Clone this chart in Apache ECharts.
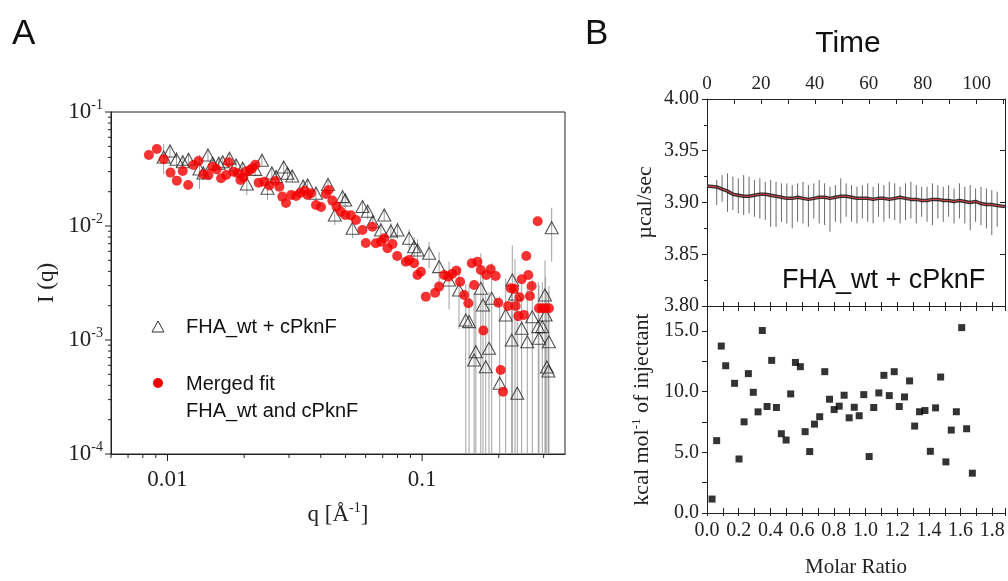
<!DOCTYPE html>
<html style="height: 100%">

<head>
	<meta charset="utf-8">
</head>

<body style="height: 100%; margin: 0; background: #fff">
	<div id="container" style="width: 1008px; height: 581px;"></div>

	<script type="text/javascript" src="https://cdn.jsdelivr.net/npm/echarts@6/dist/echarts.min.js"></script>
	<script type="text/javascript">
		// ---- panel A : SAXS, FHA_wt + cPknF (triangles, with error) ----
		let tq = [0.00966, 0.01023, 0.01085, 0.01148, 0.01209, 0.01335, 0.01384, 0.01442, 0.01505, 0.0159,
			0.01648, 0.0175, 0.0186, 0.01974, 0.0205, 0.0221, 0.0235, 0.0247, 0.0257, 0.0267,
			0.0286, 0.0296, 0.0309, 0.0341, 0.0355, 0.0383, 0.0427, 0.0454, 0.0487, 0.0499,
			0.0533, 0.0583, 0.0611, 0.064, 0.0689, 0.071, 0.0754, 0.08, 0.0889, 0.093,
			0.0959, 0.1065, 0.1166, 0.1276, 0.1396, 0.1484, 0.1529, 0.16, 0.1625, 0.17,
			0.1734, 0.1778, 0.1831, 0.1876, 0.2017, 0.2129, 0.2248, 0.226, 0.2316, 0.2364,
			0.246, 0.2588, 0.2707, 0.2858, 0.2876, 0.2964, 0.3037, 0.3055, 0.309, 0.3133,
			0.3148, 0.3227];
		let tI = [0.0403, 0.0455, 0.0385, 0.0366, 0.0385, 0.0316, 0.0292, 0.0420, 0.0355, 0.0355,
			0.0366, 0.0393, 0.0343, 0.0321, 0.0234, 0.0314, 0.0377, 0.0214, 0.0292, 0.0271,
			0.0329, 0.0290, 0.0275, 0.0224, 0.0229, 0.0194, 0.0231, 0.0125, 0.0181, 0.0169,
			0.00955, 0.0148, 0.01346, 0.0109, 0.00923, 0.0125, 0.00904, 0.00923, 0.0078, 0.00658,
			0.00616, 0.00576, 0.0044, 0.00336, 0.00275, 0.0015, 0.00145, 0.000668, 0.000789, 0.00284,
			0.00203, 0.000583, 0.000845, 0.00232, 0.000417, 0.00166, 0.001, 0.00336, 0.00253, 0.000341,
			0.00127, 0.000966, 0.0016, 0.00131, 0.001035, 0.00131, 0.00248, 0.00166, 0.000579, 0.000535,
			0.000966, 0.00966];
		let tErr = [0.012, 0.006, 0.006, 0.005, 0.005, 0.0105, 0.004, 0.005, 0.004, 0.004,
			0.004, 0.004, 0.004, 0.004, 0.0047, 0.004, 0.004, 0.0045, 0.004, 0.004,
			0.004, 0.0035, 0.0035, 0.003, 0.003, 0.003, 0.003, 0.0023, 0.0025, 0.0025,
			0.0017, 0.002, 0.002, 0.0015, 0.0015, 0.0015, 0.0015, 0.0015, 0.0015, 0.0015,
			0.0015, 0.0015, 0.0015, 0.0015, 0.0015, 0.0016, 0.0016, 0.0019, 0.0018, 0.0029,
			0.0021, 0.0019, 0.0018, 0.0024, 0.0020, 0.0018, 0.0019, 0.0034, 0.0026, 0.0021,
			0.0018, 0.0020, 0.0018, 0.0019, 0.0020, 0.0019, 0.0025, 0.0019, 0.0021, 0.0021,
			0.0020, 0.0048];

		// merged fit (red dots)
		let rq = [0.00845, 0.00908, 0.00967, 0.01028, 0.01088, 0.01148, 0.01206, 0.01265, 0.01323, 0.01384,
			0.01448, 0.01505, 0.0156, 0.01624, 0.01699, 0.0174, 0.01815, 0.01887, 0.01933, 0.01986,
			0.02035, 0.0211, 0.0215, 0.02213, 0.0228, 0.024, 0.0251, 0.0265, 0.0275, 0.02825,
			0.0292, 0.0306, 0.032, 0.0332, 0.0345, 0.0355, 0.0366, 0.0383, 0.0401, 0.0419,
			0.0429, 0.0444, 0.0461, 0.048, 0.0499, 0.0525, 0.055, 0.0583, 0.0601, 0.0638,
			0.0658, 0.0689, 0.071, 0.0731, 0.0765, 0.0798, 0.0863, 0.0889, 0.093, 0.0959,
			0.0989, 0.1034, 0.1125, 0.1166, 0.122, 0.1268, 0.1311, 0.1363, 0.141, 0.1462,
			0.1519, 0.1567, 0.16, 0.1648, 0.17, 0.1739, 0.1787, 0.1859, 0.1945, 0.1991,
			0.2035, 0.2078, 0.2175, 0.2228, 0.2296, 0.2331, 0.2385, 0.2415, 0.246, 0.2512,
			0.2565, 0.2612, 0.2651, 0.2692, 0.2843, 0.2876, 0.2964, 0.3055, 0.3148];
		let rI = [0.0420, 0.0474, 0.0385, 0.0294, 0.0250, 0.0304, 0.0229, 0.0343, 0.0372, 0.0284,
			0.0280, 0.0331, 0.0314, 0.0262, 0.0280, 0.0362, 0.0299, 0.0290, 0.0253, 0.0267,
			0.0300, 0.0310, 0.0321, 0.0345, 0.0240, 0.0245, 0.0227, 0.0248, 0.0221, 0.0181,
			0.0159, 0.0187, 0.0183, 0.0195, 0.0204, 0.0187, 0.0194, 0.0153, 0.0147, 0.0191,
			0.0207, 0.0167, 0.0148, 0.01335, 0.0125, 0.0124, 0.0113, 0.00923, 0.0071, 0.00986,
			0.00705, 0.00728, 0.0078, 0.00637, 0.00695, 0.00546, 0.00486, 0.00504, 0.00471, 0.00372,
			0.00397, 0.0024, 0.0026, 0.00294, 0.00372, 0.00359, 0.0038, 0.00406, 0.00325, 0.00248,
			0.0021, 0.00471, 0.00304, 0.00486, 0.00411, 0.00121, 0.00372, 0.00417, 0.00364, 0.00212,
			0.000546, 0.000352, 0.00199, 0.00284, 0.00281, 0.00199, 0.00162, 0.00237, 0.00341, 0.00166,
			0.00546, 0.00372, 0.00243, 0.00298, 0.0110, 0.0019, 0.0019, 0.0019, 0.0019];

		// log-axis tick positions for panel A
		let qMajor = [0.01, 0.1];
		let qMinor = [0.006, 0.007, 0.008, 0.009, 0.02, 0.03, 0.04, 0.05, 0.06, 0.07, 0.08, 0.09, 0.2, 0.3];
		let iMajor = [1e-4, 1e-3, 1e-2, 1e-1];
		let iMinor = [2e-4, 3e-4, 4e-4, 5e-4, 6e-4, 7e-4, 8e-4, 9e-4,
			2e-3, 3e-3, 4e-3, 5e-3, 6e-3, 7e-3, 8e-3, 9e-3,
			2e-2, 3e-2, 4e-2, 5e-2, 6e-2, 7e-2, 8e-2, 9e-2];

		// ---- panel B : ITC ----
		let injTime = [3.6, 5.6, 7.6, 9.6, 11.6, 13.6, 15.6, 17.6, 19.6, 21.6,
			23.6, 25.6, 27.6, 29.6, 31.6, 33.6, 35.6, 37.6, 39.6, 41.6,
			43.6, 45.6, 47.6, 49.6, 51.6, 53.6, 55.6, 57.6, 59.6, 61.6,
			63.6, 65.6, 67.6, 69.6, 71.6, 73.6, 75.6, 77.6, 79.6, 81.6,
			83.6, 85.6, 87.6, 89.6, 91.6, 93.6, 95.6, 97.6, 99.6, 101.6,
			103.6, 105.6, 107.6];
		let spikeLow = [3.8975, 3.9007, 3.891, 3.8927, 3.8895, 3.8878, 3.8895, 3.8862, 3.8846, 3.883,
			3.8765, 3.8765, 3.8814, 3.8798, 3.875, 3.8814, 3.8798, 3.8765, 3.8846, 3.8798,
			3.8782, 3.8717, 3.8814, 3.8798, 3.8862, 3.8814, 3.8798, 3.8846, 3.8814, 3.8798,
			3.8862, 3.8814, 3.8846, 3.883, 3.8798, 3.883, 3.8846, 3.8798, 3.8862, 3.8814,
			3.8782, 3.8846, 3.8814, 3.8862, 3.8798, 3.8846, 3.8798, 3.8733, 3.8814, 3.8782,
			3.875, 3.8685, 3.8765];
		let spikeHigh = [3.9217, 3.9265, 3.9281, 3.9249, 3.9233, 3.9265, 3.9249, 3.9217, 3.9233, 3.92,
			3.9217, 3.92, 3.9185, 3.9185, 3.9168, 3.9185, 3.92, 3.9168, 3.9185, 3.9217,
			3.9185, 3.9152, 3.9168, 3.9233, 3.9185, 3.9168, 3.9152, 3.9168, 3.9185, 3.9152,
			3.9185, 3.9168, 3.92, 3.9185, 3.9152, 3.9185, 3.92, 3.9168, 3.9152, 3.9152,
			3.9185, 3.9168, 3.9152, 3.9168, 3.9136, 3.9185, 3.9152, 3.9168, 3.9136, 3.9152,
			3.9136, 3.912, 3.9104];
		let baseValue = [3.915, 3.913, 3.911, 3.908, 3.907, 3.906, 3.906, 3.907, 3.908, 3.908,
			3.907, 3.906, 3.905, 3.904, 3.904, 3.905, 3.904, 3.903, 3.904, 3.905,
			3.905, 3.904, 3.905, 3.906, 3.906, 3.905, 3.904, 3.904, 3.904, 3.903,
			3.904, 3.904, 3.903, 3.904, 3.905, 3.904, 3.903, 3.903, 3.902, 3.902,
			3.903, 3.903, 3.902, 3.902, 3.901, 3.902, 3.901, 3.900, 3.901, 3.899,
			3.898, 3.898, 3.897];
		let traceStart = [0, 3.916];
		let traceEnd = [110.5, 3.896];

		let molarRatio = [0.032, 0.061, 0.090, 0.118, 0.174, 0.202, 0.234, 0.261, 0.292, 0.322,
			0.349, 0.379, 0.408, 0.438, 0.469, 0.499, 0.528, 0.558, 0.589, 0.619,
			0.648, 0.678, 0.711, 0.743, 0.773, 0.802, 0.834, 0.865, 0.897, 0.929,
			0.960, 0.989, 1.023, 1.052, 1.084, 1.116, 1.150, 1.181, 1.213, 1.246,
			1.278, 1.310, 1.341, 1.375, 1.409, 1.442, 1.474, 1.507, 1.541, 1.573,
			1.607, 1.638, 1.674];
		let heat = [1.15, 5.96, 13.75, 12.13, 10.68, 4.45, 7.51, 11.48, 9.94, 8.33,
			15.03, 8.77, 12.57, 8.69, 6.53, 6.01, 9.81, 12.40, 12.05, 6.70,
			5.06, 7.32, 7.93, 11.64, 9.37, 8.52, 8.80, 9.70, 7.84, 8.71,
			8.01, 9.75, 4.65, 8.69, 9.89, 11.34, 9.67, 11.64, 8.77, 9.56,
			10.88, 7.16, 8.34, 8.44, 5.08, 8.66, 11.20, 4.21, 6.83, 8.34,
			15.27, 6.94, 3.28];

		const serif = 'Liberation Serif';
		const sans = 'Liberation Sans';
		const ink = '#222';
		const qMin = 0.006, qMax = 0.364, iMin = 1e-4, iMax = 0.1;

		let dom = document.getElementById("container");
		let myChart = echarts.init(dom);

		let errData = tq.map((q, i) => [q, Math.max(tI[i] - tErr[i], iMin), tI[i] + tErr[i]]);
		let triData = tq.map((q, i) => [q, tI[i]]);
		let redData = rq.map((q, i) => [q, rI[i]]);
		let xTickData = qMajor.map(v => [v, 7]).concat(qMinor.map(v => [v, 4]));
		let yTickData = iMajor.map(v => [qMin, v, 6]).concat(iMinor.map(v => [qMin, v, 3]));
		let spikeData = injTime.map((t, i) => [t, spikeLow[i], spikeHigh[i]]);
		let baseData = [traceStart].concat(injTime.map((t, i) => [t, baseValue[i]]), [traceEnd]);
		let itcData = molarRatio.map((m, i) => [m, heat[i]]);

		function isPow10(v) {
			let l = Math.log10(v);
			return Math.abs(l - Math.round(l)) < 1e-6;
		}

		function vline(x, y1, y2, color) {
			return {
				type: 'line',
				shape: { x1: x, y1: y1, x2: x, y2: y2 },
				style: { stroke: color, lineWidth: 1 }
			};
		}

		let lineStyle = { color: ink, width: 1 };
		let labelSerif = { fontFamily: serif, color: ink };

		let option = {
			animation: false,
			backgroundColor: '#fff',
			grid: [
				{ left: 111, top: 112, width: 454, height: 342, show: true, borderColor: ink, borderWidth: 1 },
				{ left: 707, top: 99, width: 298, height: 207 },
				{ left: 707, top: 306, width: 298, height: 207 }
			],
			xAxis: [
				{
					type: 'log', gridIndex: 0, min: qMin, max: qMax, logBase: 10,
					axisLine: { lineStyle: lineStyle }, axisTick: { show: false }, splitLine: { show: false },
					axisLabel: Object.assign({
						fontSize: 23, margin: 14,
						formatter: v => isPow10(v) ? String(Number(v.toPrecision(2))) : ''
					}, labelSerif),
					name: '{a|q [Å}{s|-1}{a|]}', nameLocation: 'middle', nameGap: 47,
					nameTextStyle: {
						rich: {
							a: { fontFamily: serif, fontSize: 23, color: ink },
							s: { fontFamily: serif, fontSize: 14, color: ink, padding: [0, 0, 14, 0] }
						}
					}
				},
				{
					type: 'value', gridIndex: 1, position: 'top', min: 0, max: 110.5, interval: 10,
					axisLine: { lineStyle: lineStyle },
					axisTick: { inside: true, length: 5, lineStyle: lineStyle },
					splitLine: { show: false },
					axisLabel: Object.assign({
						fontSize: 19, margin: 5,
						formatter: v => (Math.round(v) % 20 === 0 && v < 110) ? String(Math.round(v)) : ''
					}, labelSerif),
					name: 'Time', nameLocation: 'middle', nameGap: 40,
					nameTextStyle: { fontFamily: sans, fontSize: 30, color: '#111', padding: [0, 16, 0, 0] }
				},
				{
					type: 'value', gridIndex: 2, position: 'bottom', min: 0, max: 1.88, interval: 0.1,
					axisLine: { lineStyle: lineStyle },
					axisTick: { inside: true, length: 5, lineStyle: lineStyle },
					splitLine: { show: false },
					axisLabel: Object.assign({
						fontSize: 20, margin: 8,
						formatter: v => (Math.round(v * 10) % 2 === 0 && v < 1.85) ? v.toFixed(1) : ''
					}, labelSerif),
					name: 'Molar Ratio', nameLocation: 'middle', nameGap: 44,
					nameTextStyle: { fontFamily: serif, fontSize: 21, color: ink }
				},
				{
					type: 'value', gridIndex: 2, position: 'bottom', min: 0, max: 1.88, interval: 0.1,
					axisLine: { lineStyle: lineStyle },
					axisTick: { inside: false, length: 3, lineStyle: lineStyle },
					axisLabel: { show: false }, splitLine: { show: false }
				},
				{
					type: 'value', gridIndex: 2, position: 'top', min: 0, max: 1.88, interval: 0.1,
					axisLine: { lineStyle: lineStyle },
					axisTick: { inside: true, length: 5, lineStyle: lineStyle },
					axisLabel: { show: false }, splitLine: { show: false }
				},
				{
					type: 'value', gridIndex: 2, position: 'top', min: 0, max: 1.88, interval: 0.1,
					axisLine: { lineStyle: lineStyle },
					axisTick: { inside: false, length: 4, lineStyle: lineStyle },
					axisLabel: { show: false }, splitLine: { show: false }
				}
			],
			yAxis: [
				{
					type: 'log', gridIndex: 0, min: iMin, max: iMax, logBase: 10,
					axisLine: { lineStyle: lineStyle }, axisTick: { show: false }, splitLine: { show: false },
					axisLabel: {
						margin: 8,
						formatter: v => isPow10(v) ? '{b|10}{s|' + Math.round(Math.log10(v)) + '}' : '',
						rich: {
							b: { fontFamily: serif, fontSize: 23, color: ink },
							s: { fontFamily: serif, fontSize: 14, color: ink, padding: [0, 0, 14, 0] }
						}
					},
					name: 'I (q)', nameLocation: 'middle', nameGap: 53,
					nameTextStyle: { fontFamily: serif, fontSize: 23, color: ink }
				},
				{
					type: 'value', gridIndex: 1, position: 'left', min: 3.80, max: 4.00, interval: 0.05,
					axisLine: { lineStyle: lineStyle },
					axisTick: { inside: false, length: 5, lineStyle: lineStyle },
					minorTick: { show: true, splitNumber: 2, length: 3, lineStyle: lineStyle },
					splitLine: { show: false },
					axisLabel: Object.assign({ fontSize: 20, margin: 8, formatter: v => v.toFixed(2) }, labelSerif),
					name: 'µcal/sec', nameLocation: 'middle', nameGap: 51,
					nameTextStyle: { fontFamily: serif, fontSize: 22, color: ink }
				},
				{
					type: 'value', gridIndex: 1, position: 'right', min: 3.80, max: 4.00, interval: 0.05,
					axisLine: { lineStyle: lineStyle },
					axisTick: { inside: true, length: 5, lineStyle: lineStyle },
					splitLine: { show: false }, axisLabel: { show: false }
				},
				{
					type: 'value', gridIndex: 2, position: 'left', min: 0, max: 17.05, interval: 5,
					axisLine: { lineStyle: lineStyle },
					axisTick: { inside: false, length: 5, lineStyle: lineStyle },
					minorTick: { show: true, splitNumber: 2, length: 3, lineStyle: lineStyle },
					splitLine: { show: false },
					axisLabel: Object.assign({
						fontSize: 20, margin: 8,
						formatter: v => (v < 17 ? v.toFixed(1) : '')
					}, labelSerif),
					name: 'kcal mol{s|-1} of injectant', nameLocation: 'middle', nameGap: 52,
					nameTextStyle: {
						fontFamily: serif, fontSize: 22, color: ink,
						rich: { s: { fontFamily: serif, fontSize: 13, color: ink, padding: [0, 0, 12, 0] } }
					}
				},
				{
					type: 'value', gridIndex: 2, position: 'right', min: 0, max: 17.05, interval: 5,
					axisLine: { lineStyle: lineStyle },
					axisTick: { inside: true, length: 5, lineStyle: lineStyle },
					minorTick: { show: true, splitNumber: 2, length: 5, lineStyle: lineStyle },
					splitLine: { show: false }, axisLabel: { show: false }
				}
			],
			series: [
				{
					name: 'err', type: 'custom', xAxisIndex: 0, yAxisIndex: 0, silent: true, clip: true,
					data: errData,
					renderItem: function (params, api) {
						let top = api.coord([api.value(0), api.value(2)]);
						let bot = api.coord([api.value(0), api.value(1)]);
						return vline(top[0], top[1], bot[1], '#a0a0a0');
					}
				},
				{
					name: 'FHA_wt + cPknF', type: 'scatter', xAxisIndex: 0, yAxisIndex: 0,
					symbol: 'triangle', symbolSize: [13, 12],
					itemStyle: { color: 'rgba(255,255,255,0)', borderColor: '#2a2a2a', borderWidth: 1.1 },
					data: triData
				},
				{
					name: 'Merged fit', type: 'scatter', xAxisIndex: 0, yAxisIndex: 0,
					symbol: 'circle', symbolSize: 10,
					itemStyle: { color: '#f20000' },
					data: redData
				},
				{
					name: 'qTicks', type: 'custom', xAxisIndex: 0, yAxisIndex: 0, silent: true, clip: false,
					data: xTickData,
					renderItem: function (params, api) {
						let p = api.coord([api.value(0), iMin]);
						return vline(p[0], p[1], p[1] + api.value(1), ink);
					}
				},
				{
					name: 'iTicks', type: 'custom', xAxisIndex: 0, yAxisIndex: 0, silent: true, clip: false,
					data: yTickData,
					renderItem: function (params, api) {
						let p = api.coord([api.value(0), api.value(1)]);
						return {
							type: 'line',
							shape: { x1: p[0] - api.value(2), y1: p[1], x2: p[0], y2: p[1] },
							style: { stroke: ink, lineWidth: 1 }
						};
					}
				},
				{
					name: 'spikes', type: 'custom', xAxisIndex: 1, yAxisIndex: 1, silent: true,
					data: spikeData,
					renderItem: function (params, api) {
						let lo = api.coord([api.value(0), api.value(1)]);
						let hi = api.coord([api.value(0), api.value(2)]);
						return vline(lo[0], lo[1], hi[1], '#6a6a6a');
					}
				},
				{
					name: 'raw', type: 'line', xAxisIndex: 1, yAxisIndex: 1, silent: true,
					symbol: 'none', data: baseData,
					lineStyle: { color: '#1c1c1c', width: 3.5, opacity: 0.9 }
				},
				{
					name: 'baseline', type: 'line', xAxisIndex: 1, yAxisIndex: 1, silent: true,
					symbol: 'none', data: baseData,
					lineStyle: { color: '#e04040', width: 1 }
				},
				{
					name: 'heats', type: 'scatter', xAxisIndex: 2, yAxisIndex: 3,
					symbol: 'rect', symbolSize: 7,
					itemStyle: { color: '#000' },
					data: itcData
				}
			],
			graphic: [
				{ type: 'text', left: 12, top: 17, style: { text: 'A', fontFamily: sans, fontSize: 35, fill: '#111' } },
				{ type: 'text', left: 585, top: 17, style: { text: 'B', fontFamily: sans, fontSize: 35, fill: '#111' } },
				{
					type: 'polygon', silent: true,
					shape: { points: [[152, 332], [164, 332], [158, 321]] },
					style: { fill: 'none', stroke: '#333', lineWidth: 1 }
				},
				{ type: 'text', x: 186, y: 327, style: { text: 'FHA_wt + cPknF', fontFamily: sans, fontSize: 20, fill: '#111', verticalAlign: 'middle' } },
				{ type: 'circle', silent: true, shape: { cx: 158, cy: 383, r: 5 }, style: { fill: '#f20000' } },
				{ type: 'text', x: 186, y: 384, style: { text: 'Merged fit', fontFamily: sans, fontSize: 20, fill: '#111', verticalAlign: 'middle' } },
				{ type: 'text', x: 186, y: 411, style: { text: 'FHA_wt and cPknF', fontFamily: sans, fontSize: 20, fill: '#111', verticalAlign: 'middle' } },
				{ type: 'text', x: 782, y: 281, style: { text: 'FHA_wt + cPknF', fontFamily: sans, fontSize: 27, fill: '#111', verticalAlign: 'middle' } }
			]
		};

		myChart.setOption(option, true);
	</script>
</body>

</html>
